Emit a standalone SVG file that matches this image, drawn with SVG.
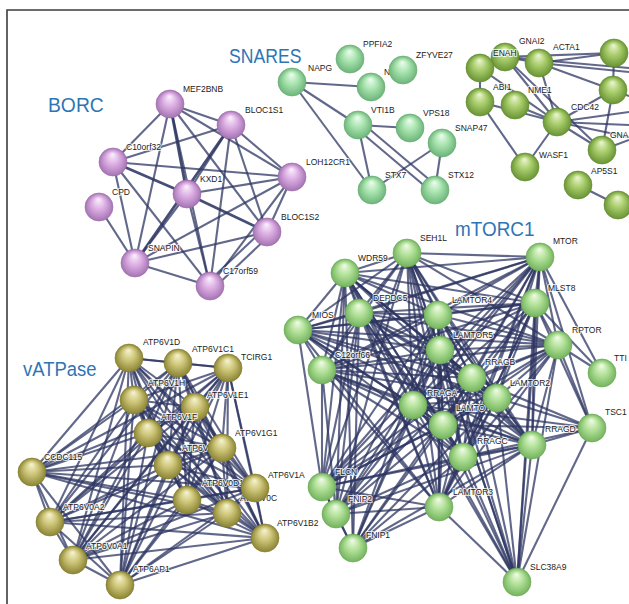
<svg xmlns="http://www.w3.org/2000/svg" width="629" height="604" viewBox="0 0 629 604">
<style>
.frame{fill:none;stroke:#3c3c3c;stroke-width:1.6}
.title{font-family:"Liberation Sans","DejaVu Sans",sans-serif;font-size:21px;fill:#2e75b6}
.lbl{font-family:"Liberation Sans","DejaVu Sans",sans-serif;font-size:8.5px;fill:#222;stroke:#fff;stroke-width:2.2px;stroke-opacity:0.75;paint-order:stroke;stroke-linejoin:round}
#edges path{fill:none;stroke:#2e3662;stroke-width:2.1;stroke-opacity:0.75}
#edges path.t{stroke-width:2.8;stroke-opacity:0.88}
</style>
<defs>
<radialGradient id="gP" cx="50%" cy="50%" r="50%" fx="48%" fy="22%"><stop offset="0" stop-color="#fbf3fc"/><stop offset="0.45" stop-color="#dfb2e6"/><stop offset="1" stop-color="#a574b3"/></radialGradient>
<radialGradient id="gS" cx="50%" cy="50%" r="50%" fx="48%" fy="22%"><stop offset="0" stop-color="#f1fcf2"/><stop offset="0.45" stop-color="#ace6b2"/><stop offset="1" stop-color="#6db57a"/></radialGradient>
<radialGradient id="gM" cx="50%" cy="50%" r="50%" fx="48%" fy="22%"><stop offset="0" stop-color="#f3fbe9"/><stop offset="0.45" stop-color="#b5e39c"/><stop offset="1" stop-color="#74b45e"/></radialGradient>
<radialGradient id="gO" cx="50%" cy="50%" r="50%" fx="48%" fy="22%"><stop offset="0" stop-color="#eef6d6"/><stop offset="0.45" stop-color="#acd070"/><stop offset="1" stop-color="#6a9434"/></radialGradient>
<radialGradient id="gY" cx="50%" cy="50%" r="50%" fx="48%" fy="22%"><stop offset="0" stop-color="#f7f4d4"/><stop offset="0.45" stop-color="#d0c87c"/><stop offset="1" stop-color="#8c8534"/></radialGradient>
<circle id="bP" r="14" fill="url(#gP)" stroke="#9a6aa8" stroke-width="0.6"/>
<circle id="bS" r="14" fill="url(#gS)" stroke="#66a872" stroke-width="0.6"/>
<circle id="bM" r="14" fill="url(#gM)" stroke="#6aa655" stroke-width="0.6"/>
<circle id="bO" r="14" fill="url(#gO)" stroke="#5e8a2d" stroke-width="0.6"/>
<circle id="bY" r="14" fill="url(#gY)" stroke="#827b2e" stroke-width="0.6"/>
</defs>
<rect width="629" height="604" fill="#fff"/>
<path class="frame" d="M7 604V10H629"/>
<g id="titles">
<text class="title" transform="translate(48 112) scale(0.92 1)">BORC</text>
<text class="title" transform="translate(229 63) scale(0.84 1)">SNARES</text>
<text class="title" transform="translate(455 236) scale(0.9 1)">mTORC1</text>
<text class="title" transform="translate(23 376) scale(0.88 1)">vATPase</text>
</g>
<g id="edges">
<!-- BORC -->
<path d="M170 104L231 125"/><path d="M170 104L113 162"/><path d="M170 104L292 177"/><path class="t" d="M170 104L187 194"/><path d="M170 104L267 232"/><path d="M170 104L135 263"/><path d="M170 104L210 286"/>
<path d="M231 125L113 162"/><path d="M231 125L292 177"/><path d="M231 125L187 194"/><path d="M231 125L267 232"/><path class="t" d="M231 125L135 263"/><path d="M231 125L210 286"/>
<path d="M113 162L292 177"/><path class="t" d="M113 162L187 194"/><path d="M113 162L135 263"/><path d="M113 162L210 286"/>
<path d="M292 177L187 194"/><path d="M292 177L267 232"/><path d="M292 177L135 263"/><path d="M292 177L210 286"/>
<path class="t" d="M187 194L267 232"/><path d="M187 194L135 263"/><path d="M187 194L210 286"/>
<path d="M267 232L135 263"/><path d="M264 229L207 283"/><path d="M270 235L213 289"/><path d="M135 263L210 286"/><path d="M99 207L135 263"/>
<!-- SNARES -->
<path d="M292 82L371 87"/><path d="M292 82L358 125"/><path d="M292 82L372 190"/><path d="M358 125L410 128"/><path d="M358 125L372 190"/><path d="M356 128L433 193"/><path d="M361 122L438 187"/><path d="M372 190L442 143"/><path d="M442 143L435 190"/>
<!-- olive -->
<path d="M480 68L505 57"/><path d="M480 68L480 102"/><path d="M505 57L539 63"/><path d="M505 57L614 53"/><path d="M539 63L614 53"/><path d="M539 63L613 90"/><path d="M539 63L629 72"/><path d="M505 57L629 68"/>
<path d="M505 57L557 122"/><path d="M480 68L557 122"/><path d="M505 57L602 150"/><path d="M539 63L557 122"/><path d="M480 102L557 122"/><path d="M515 105L557 122"/><path d="M480 102L525 167"/><path d="M557 122L525 167"/><path d="M557 122L602 150"/><path d="M557 122L613 90"/>
<path d="M557 122L629 112"/><path d="M557 122L629 125"/><path d="M557 122L629 137"/><path d="M614 53L613 90"/><path d="M613 90L602 150"/><path d="M602 150L629 140"/><path d="M613 90L629 96"/><path d="M578 185L618 205"/>
<!-- vATPase -->
<path d="M129 358L178 363"/><path d="M129 358L228 368"/><path d="M129 358L134 400"/><path d="M129 358L195 407"/><path d="M129 358L148 433"/><path d="M129 358L222 448"/><path d="M129 358L168 465"/><path d="M129 358L32 472"/><path d="M129 358L255 488"/><path d="M129 358L187 500"/><path d="M129 358L227 513"/><path d="M129 358L50 522"/><path d="M129 358L265 538"/><path d="M129 358L73 560"/><path d="M129 358L120 585"/>
<path d="M178 363L228 368"/><path d="M178 363L134 400"/><path d="M178 363L195 407"/><path d="M178 363L148 433"/><path d="M178 363L222 448"/><path d="M178 363L168 465"/><path d="M178 363L32 472"/><path d="M178 363L255 488"/><path d="M178 363L187 500"/><path d="M178 363L227 513"/><path d="M178 363L50 522"/><path d="M178 363L265 538"/><path d="M178 363L73 560"/><path d="M178 363L120 585"/>
<path d="M228 368L134 400"/><path d="M228 368L195 407"/><path d="M228 368L148 433"/><path d="M228 368L222 448"/><path d="M228 368L168 465"/><path d="M228 368L32 472"/><path d="M228 368L255 488"/><path d="M228 368L187 500"/><path d="M228 368L227 513"/><path d="M228 368L50 522"/><path d="M228 368L265 538"/><path d="M228 368L73 560"/><path d="M228 368L120 585"/>
<path d="M134 400L195 407"/><path d="M134 400L148 433"/><path d="M134 400L222 448"/><path d="M134 400L168 465"/><path d="M134 400L32 472"/><path d="M134 400L255 488"/><path d="M134 400L187 500"/><path d="M134 400L227 513"/><path d="M134 400L50 522"/><path d="M134 400L265 538"/><path d="M134 400L73 560"/><path d="M134 400L120 585"/>
<path d="M195 407L148 433"/><path d="M195 407L222 448"/><path d="M195 407L168 465"/><path d="M195 407L32 472"/><path d="M195 407L255 488"/><path d="M195 407L187 500"/><path d="M195 407L227 513"/><path d="M195 407L50 522"/><path d="M195 407L265 538"/><path d="M195 407L73 560"/><path d="M195 407L120 585"/>
<path d="M148 433L222 448"/><path d="M148 433L168 465"/><path d="M148 433L32 472"/><path d="M148 433L255 488"/><path d="M148 433L187 500"/><path d="M148 433L227 513"/><path d="M148 433L50 522"/><path d="M148 433L265 538"/><path d="M148 433L73 560"/><path d="M148 433L120 585"/>
<path d="M222 448L168 465"/><path d="M222 448L32 472"/><path d="M222 448L255 488"/><path d="M222 448L187 500"/><path d="M222 448L227 513"/><path d="M222 448L50 522"/><path d="M222 448L265 538"/><path d="M222 448L73 560"/><path d="M222 448L120 585"/>
<path d="M168 465L32 472"/><path d="M168 465L255 488"/><path d="M168 465L187 500"/><path d="M168 465L227 513"/><path d="M168 465L50 522"/><path d="M168 465L265 538"/><path d="M168 465L73 560"/><path d="M168 465L120 585"/>
<path d="M32 472L255 488"/><path d="M32 472L187 500"/><path d="M32 472L227 513"/><path d="M32 472L50 522"/><path d="M32 472L265 538"/><path d="M32 472L73 560"/><path d="M32 472L120 585"/>
<path d="M255 488L187 500"/><path d="M255 488L227 513"/><path d="M255 488L50 522"/><path d="M255 488L265 538"/><path d="M255 488L73 560"/><path d="M255 488L120 585"/>
<path d="M187 500L227 513"/><path d="M187 500L50 522"/><path d="M187 500L265 538"/><path d="M187 500L73 560"/><path d="M187 500L120 585"/>
<path d="M227 513L50 522"/><path d="M227 513L265 538"/><path d="M227 513L73 560"/><path d="M227 513L120 585"/>
<path d="M50 522L265 538"/><path d="M50 522L73 560"/><path d="M50 522L120 585"/><path d="M265 538L73 560"/><path d="M265 538L120 585"/><path d="M73 560L120 585"/>
<!-- mTORC1 core -->
<path d="M407 253L540 257"/><path d="M407 253L345 273"/><path d="M407 253L535 303"/><path d="M407 253L359 313"/><path d="M407 253L438 315"/><path d="M407 253L298 330"/><path d="M407 253L558 345"/><path d="M407 253L440 350"/><path d="M407 253L322 370"/><path d="M407 253L472 378"/><path d="M407 253L497 398"/><path d="M407 253L413 405"/><path d="M407 253L443 425"/><path d="M407 253L532 445"/><path d="M407 253L463 457"/><path d="M407 253L439 507"/>
<path d="M540 257L345 273"/><path d="M540 257L535 303"/><path d="M540 257L359 313"/><path d="M540 257L438 315"/><path d="M540 257L298 330"/><path d="M540 257L558 345"/><path d="M540 257L440 350"/><path d="M540 257L322 370"/><path d="M540 257L472 378"/><path d="M540 257L497 398"/><path d="M540 257L413 405"/><path d="M540 257L443 425"/><path d="M540 257L532 445"/><path d="M540 257L463 457"/><path d="M540 257L439 507"/>
<path d="M345 273L535 303"/><path d="M345 273L359 313"/><path d="M345 273L438 315"/><path d="M345 273L298 330"/><path d="M345 273L558 345"/><path d="M345 273L440 350"/><path d="M345 273L322 370"/><path d="M345 273L472 378"/><path d="M345 273L497 398"/><path d="M345 273L413 405"/><path d="M345 273L443 425"/><path d="M345 273L532 445"/><path d="M345 273L463 457"/><path d="M345 273L439 507"/>
<path d="M535 303L359 313"/><path d="M535 303L438 315"/><path d="M535 303L298 330"/><path d="M535 303L558 345"/><path d="M535 303L440 350"/><path d="M535 303L322 370"/><path d="M535 303L472 378"/><path d="M535 303L497 398"/><path d="M535 303L413 405"/><path d="M535 303L443 425"/><path d="M535 303L532 445"/><path d="M535 303L463 457"/><path d="M535 303L439 507"/>
<path d="M359 313L438 315"/><path d="M359 313L298 330"/><path d="M359 313L558 345"/><path d="M359 313L440 350"/><path d="M359 313L322 370"/><path d="M359 313L472 378"/><path d="M359 313L497 398"/><path d="M359 313L413 405"/><path d="M359 313L443 425"/><path d="M359 313L532 445"/><path d="M359 313L463 457"/><path d="M359 313L439 507"/>
<path d="M438 315L298 330"/><path d="M438 315L558 345"/><path d="M438 315L440 350"/><path d="M438 315L322 370"/><path d="M438 315L472 378"/><path d="M438 315L497 398"/><path d="M438 315L413 405"/><path d="M438 315L443 425"/><path d="M438 315L532 445"/><path d="M438 315L463 457"/><path d="M438 315L439 507"/>
<path d="M298 330L558 345"/><path d="M298 330L440 350"/><path d="M298 330L322 370"/><path d="M298 330L472 378"/><path d="M298 330L497 398"/><path d="M298 330L413 405"/><path d="M298 330L443 425"/><path d="M298 330L532 445"/><path d="M298 330L463 457"/><path d="M298 330L439 507"/>
<path d="M558 345L440 350"/><path d="M558 345L322 370"/><path d="M558 345L472 378"/><path d="M558 345L497 398"/><path d="M558 345L413 405"/><path d="M558 345L443 425"/><path d="M558 345L532 445"/><path d="M558 345L463 457"/><path d="M558 345L439 507"/>
<path d="M440 350L322 370"/><path d="M440 350L472 378"/><path d="M440 350L497 398"/><path d="M440 350L413 405"/><path d="M440 350L443 425"/><path d="M440 350L532 445"/><path d="M440 350L463 457"/><path d="M440 350L439 507"/>
<path d="M322 370L472 378"/><path d="M322 370L497 398"/><path d="M322 370L413 405"/><path d="M322 370L443 425"/><path d="M322 370L532 445"/><path d="M322 370L463 457"/><path d="M322 370L439 507"/>
<path d="M472 378L497 398"/><path d="M472 378L413 405"/><path d="M472 378L443 425"/><path d="M472 378L532 445"/><path d="M472 378L463 457"/><path d="M472 378L439 507"/>
<path d="M497 398L413 405"/><path d="M497 398L443 425"/><path d="M497 398L532 445"/><path d="M497 398L463 457"/><path d="M497 398L439 507"/>
<path d="M413 405L443 425"/><path d="M413 405L532 445"/><path d="M413 405L463 457"/><path d="M413 405L439 507"/>
<path d="M443 425L532 445"/><path d="M443 425L463 457"/><path d="M443 425L439 507"/><path d="M532 445L463 457"/><path d="M532 445L439 507"/><path d="M463 457L439 507"/>
<!-- FLCN / FNIP -->
<path d="M322 487L407 253"/><path d="M322 487L345 273"/><path d="M322 487L298 330"/><path d="M322 487L359 313"/><path d="M322 487L322 370"/><path d="M322 487L438 315"/><path d="M322 487L440 350"/><path d="M322 487L413 405"/><path d="M322 487L472 378"/><path d="M322 487L497 398"/><path d="M322 487L443 425"/><path d="M322 487L532 445"/><path d="M322 487L463 457"/><path d="M322 487L439 507"/><path d="M322 487L540 257"/><path d="M322 487L558 345"/>
<path d="M336 514L407 253"/><path d="M336 514L345 273"/><path d="M336 514L359 313"/><path d="M336 514L322 370"/><path d="M336 514L438 315"/><path d="M336 514L440 350"/><path d="M336 514L413 405"/><path d="M336 514L472 378"/><path d="M336 514L443 425"/><path d="M336 514L463 457"/><path d="M336 514L439 507"/><path d="M336 514L532 445"/><path d="M336 514L540 257"/>
<path d="M353 548L345 273"/><path d="M353 548L359 313"/><path d="M353 548L438 315"/><path d="M353 548L440 350"/><path d="M353 548L413 405"/><path d="M353 548L472 378"/><path d="M353 548L443 425"/><path d="M353 548L463 457"/><path d="M353 548L439 507"/><path d="M353 548L532 445"/><path d="M353 548L497 398"/>
<path d="M322 487L336 514"/><path d="M322 487L353 548"/><path d="M336 514L353 548"/>
<!-- SLC38A9 / TSC1 / TTI1 -->
<path d="M517 582L443 425"/><path d="M517 582L497 398"/><path d="M517 582L439 507"/><path d="M517 582L438 315"/><path d="M517 582L440 350"/><path d="M517 582L413 405"/><path d="M517 582L472 378"/><path d="M517 582L463 457"/><path d="M517 582L532 445"/><path d="M517 582L540 257"/><path d="M517 582L558 345"/><path d="M517 582L535 303"/><path d="M517 582L592 428"/><path d="M517 582L407 253"/><path d="M517 582L345 273"/>
<path d="M592 428L540 257"/><path d="M592 428L558 345"/><path d="M592 428L535 303"/><path d="M592 428L532 445"/><path d="M592 428L463 457"/><path d="M592 428L472 378"/><path d="M592 428L413 405"/><path d="M592 428L497 398"/><path d="M592 428L443 425"/>
<path d="M602 373L540 257"/><path d="M602 373L558 345"/><path d="M602 373L535 303"/>
</g>
<g id="nodes">
<g id="n-MEF2BNB"><use href="#bP" x="170" y="104"/><text class="lbl" x="183" y="92">MEF2BNB</text></g>
<g id="n-BLOC1S1"><use href="#bP" x="231" y="125"/><text class="lbl" x="245" y="113">BLOC1S1</text></g>
<g id="n-C10orf32"><use href="#bP" x="113" y="162"/><text class="lbl" x="126" y="150">C10orf32</text></g>
<g id="n-LOH12CR1"><use href="#bP" x="292" y="177"/><text class="lbl" x="306" y="165">LOH12CR1</text></g>
<g id="n-KXD1"><use href="#bP" x="187" y="194"/><text class="lbl" x="200" y="182">KXD1</text></g>
<g id="n-CPD"><use href="#bP" x="99" y="207"/><text class="lbl" x="112" y="195">CPD</text></g>
<g id="n-BLOC1S2"><use href="#bP" x="267" y="232"/><text class="lbl" x="281" y="220">BLOC1S2</text></g>
<g id="n-SNAPIN"><use href="#bP" x="135" y="263"/><text class="lbl" x="148" y="251">SNAPIN</text></g>
<g id="n-C17orf59"><use href="#bP" x="210" y="286"/><text class="lbl" x="223" y="274">C17orf59</text></g>

<g id="n-NAPG"><use href="#bS" x="292" y="82"/><text class="lbl" x="308" y="71">NAPG</text></g>
<g id="n-PPFIA2"><use href="#bS" x="350" y="59"/><text class="lbl" x="363" y="47">PPFIA2</text></g>
<g id="n-N"><use href="#bS" x="371" y="87"/><text class="lbl" x="384" y="75">N</text></g>
<g id="n-ZFYVE27"><use href="#bS" x="403" y="70"/><text class="lbl" x="416" y="58">ZFYVE27</text></g>
<g id="n-VTI1B"><use href="#bS" x="358" y="125"/><text class="lbl" x="371" y="113">VTI1B</text></g>
<g id="n-VPS18"><use href="#bS" x="410" y="128"/><text class="lbl" x="423" y="116">VPS18</text></g>
<g id="n-SNAP47"><use href="#bS" x="442" y="143"/><text class="lbl" x="455" y="131">SNAP47</text></g>
<g id="n-STX7"><use href="#bS" x="372" y="190"/><text class="lbl" x="385" y="178">STX7</text></g>
<g id="n-STX12"><use href="#bS" x="435" y="190"/><text class="lbl" x="448" y="178">STX12</text></g>

<g id="n-GNAI2"><use href="#bO" x="505" y="57"/><text class="lbl" x="519" y="44">GNAI2</text></g>
<g id="n-ENAH"><use href="#bO" x="480" y="68"/><text class="lbl" x="493" y="56">ENAH</text></g>
<g id="n-ACTA1"><use href="#bO" x="539" y="63"/><text class="lbl" x="553" y="50">ACTA1</text></g>
<g id="n-R1"><use href="#bO" x="614" y="53"/></g>
<g id="n-R2"><use href="#bO" x="613" y="90"/></g>
<g id="n-ABI1"><use href="#bO" x="480" y="102"/><text class="lbl" x="493" y="90">ABI1</text></g>
<g id="n-NME1"><use href="#bO" x="515" y="105"/><text class="lbl" x="528" y="93">NME1</text></g>
<g id="n-CDC42"><use href="#bO" x="557" y="122"/><text class="lbl" x="571" y="110">CDC42</text></g>
<g id="n-GNA"><use href="#bO" x="602" y="150"/><text class="lbl" x="610" y="138">GNA</text></g>
<g id="n-WASF1"><use href="#bO" x="525" y="167"/><text class="lbl" x="539" y="158">WASF1</text></g>
<g id="n-AP5S1"><use href="#bO" x="578" y="185"/><text class="lbl" x="591" y="174">AP5S1</text></g>
<g id="n-R4"><use href="#bO" x="618" y="205"/></g>

<g id="n-SEH1L"><use href="#bM" x="407" y="253"/><text class="lbl" x="420" y="241">SEH1L</text></g>
<g id="n-MTOR"><use href="#bM" x="540" y="257"/><text class="lbl" x="553" y="244">MTOR</text></g>
<g id="n-WDR59"><use href="#bM" x="345" y="273"/><text class="lbl" x="358" y="261">WDR59</text></g>
<g id="n-MLST8"><use href="#bM" x="535" y="303"/><text class="lbl" x="548" y="291">MLST8</text></g>
<g id="n-DEPDC5"><use href="#bM" x="359" y="313"/><text class="lbl" x="373" y="301">DEPDC5</text></g>
<g id="n-LAMTOR4"><use href="#bM" x="438" y="315"/><text class="lbl" x="452" y="303">LAMTOR4</text></g>
<g id="n-MIOS"><use href="#bM" x="298" y="330"/><text class="lbl" x="312" y="318">MIOS</text></g>
<g id="n-RPTOR"><use href="#bM" x="558" y="345"/><text class="lbl" x="572" y="333">RPTOR</text></g>
<g id="n-LAMTOR5"><use href="#bM" x="440" y="350"/><text class="lbl" x="453" y="338">LAMTOR5</text></g>
<g id="n-C12orf66"><use href="#bM" x="322" y="370"/><text class="lbl" x="335" y="358">C12orf66</text></g>
<g id="n-TTI"><use href="#bM" x="602" y="373"/><text class="lbl" x="614" y="361">TTI</text></g>
<g id="n-RRAGB"><use href="#bM" x="472" y="378"/><text class="lbl" x="485" y="365">RRAGB</text></g>
<g id="n-RRAGA"><use href="#bM" x="413" y="405"/><text class="lbl" x="427" y="396">RRAGA</text></g>
<g id="n-LAMTO"><use href="#bM" x="443" y="425"/><text class="lbl" x="456" y="411">LAMTO</text></g>
<g id="n-LAMTOR2"><use href="#bM" x="497" y="398"/><text class="lbl" x="510" y="386">LAMTOR2</text></g>
<g id="n-RRAGD"><use href="#bM" x="532" y="445"/><text class="lbl" x="545" y="432">RRAGD</text></g>
<g id="n-TSC1"><use href="#bM" x="592" y="428"/><text class="lbl" x="605" y="415">TSC1</text></g>
<g id="n-RRAGC"><use href="#bM" x="463" y="457"/><text class="lbl" x="477" y="444">RRAGC</text></g>
<g id="n-FLCN"><use href="#bM" x="322" y="487"/><text class="lbl" x="335" y="475">FLCN</text></g>
<g id="n-LAMTOR3"><use href="#bM" x="439" y="507"/><text class="lbl" x="453" y="495">LAMTOR3</text></g>
<g id="n-FNIP2"><use href="#bM" x="336" y="514"/><text class="lbl" x="348" y="502">FNIP2</text></g>
<g id="n-FNIP1"><use href="#bM" x="353" y="548"/><text class="lbl" x="366" y="538">FNIP1</text></g>
<g id="n-SLC38A9"><use href="#bM" x="517" y="582"/><text class="lbl" x="530" y="570">SLC38A9</text></g>

<g id="n-ATP6V1D"><use href="#bY" x="129" y="358"/><text class="lbl" x="143" y="345">ATP6V1D</text></g>
<g id="n-ATP6V1C1"><use href="#bY" x="178" y="363"/><text class="lbl" x="192" y="352">ATP6V1C1</text></g>
<g id="n-TCIRG1"><use href="#bY" x="228" y="368"/><text class="lbl" x="241" y="360">TCIRG1</text></g>
<g id="n-ATP6V1H"><use href="#bY" x="134" y="400"/><text class="lbl" x="148" y="386">ATP6V1H</text></g>
<g id="n-ATP6V1E1"><use href="#bY" x="195" y="407"/><text class="lbl" x="207" y="398">ATP6V1E1</text></g>
<g id="n-ATP6V1F"><use href="#bY" x="148" y="433"/><text class="lbl" x="161" y="420">ATP6V1F</text></g>
<g id="n-ATP6V"><use href="#bY" x="168" y="465"/><text class="lbl" x="182" y="451">ATP6V</text></g>
<g id="n-ATP6V1G1"><use href="#bY" x="222" y="448"/><text class="lbl" x="235" y="436">ATP6V1G1</text></g>
<g id="n-CCDC115"><use href="#bY" x="32" y="472"/><text class="lbl" x="44" y="460">CCDC115</text></g>
<g id="n-ATP6V0D1"><use href="#bY" x="187" y="500"/><text class="lbl" x="202" y="486">ATP6V0D1</text></g>
<g id="n-ATP6V0C"><use href="#bY" x="227" y="513"/><text class="lbl" x="240" y="501">ATP6V0C</text></g>
<g id="n-ATP6V1A"><use href="#bY" x="255" y="488"/><text class="lbl" x="268" y="478">ATP6V1A</text></g>
<g id="n-ATP6V0A2"><use href="#bY" x="50" y="522"/><text class="lbl" x="63" y="510">ATP6V0A2</text></g>
<g id="n-ATP6V1B2"><use href="#bY" x="265" y="538"/><text class="lbl" x="277" y="526">ATP6V1B2</text></g>
<g id="n-ATP6V0A1"><use href="#bY" x="73" y="560"/><text class="lbl" x="86" y="549">ATP6V0A1</text></g>
<g id="n-ATP6AP1"><use href="#bY" x="120" y="585"/><text class="lbl" x="133" y="572">ATP6AP1</text></g>
</g>
</svg>
